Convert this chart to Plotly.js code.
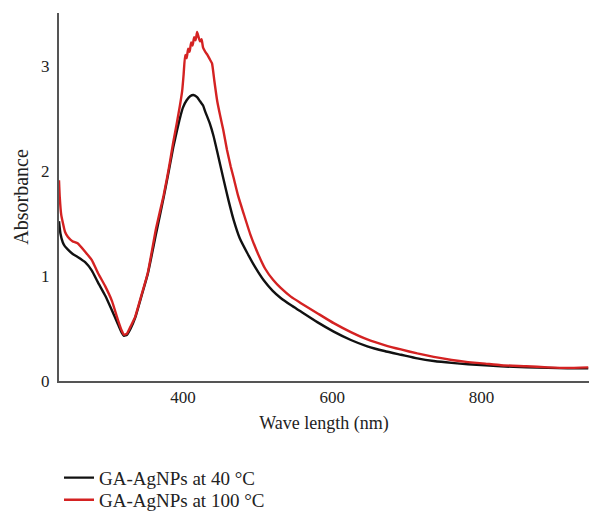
<!DOCTYPE html>
<html>
<head>
<meta charset="utf-8">
<script src="https://cdn.plot.ly/plotly-3.0.1.min.js"></script>
<style>html,body{margin:0;padding:0;background:#fff;}#chart{width:589px;height:512px;}</style>
</head>
<body>
<div id="chart"></div>
<script>
// Wavelength (nm) and absorbance
var wl40 = [234,236,239,242,246,252,259,269,278,286,296,305,313,318,321,325,330,336,345,353,364,374,379,383,387,392,396,400,405,410,414,419,423,427,430,436,441,446,454,461,468,476,486,497,508,520,531,545,557,580,602,625,647,670,692,714,736,760,782,805,826,860,889,915,943];
var abs40 = [1.52,1.40,1.32,1.28,1.25,1.21,1.18,1.13,1.05,0.94,0.81,0.67,0.54,0.46,0.43,0.44,0.50,0.60,0.82,1.02,1.40,1.74,1.92,2.07,2.22,2.38,2.50,2.60,2.67,2.71,2.72,2.70,2.66,2.62,2.56,2.45,2.33,2.18,1.93,1.72,1.53,1.36,1.22,1.08,0.96,0.86,0.79,0.72,0.665,0.56,0.47,0.39,0.33,0.285,0.25,0.215,0.19,0.172,0.16,0.15,0.14,0.13,0.125,0.12,0.12];

var wl100 = [234,235,237,242,246,252,259,269,278,286,296,305,313,318,321,325,330,336,345,353,364,374,379,383,387,392,396,399,401,403,405,407,409,411,413,415,417,419,421,423,425,427,430,433,436,439,442,446,450,454,459,464,468,474,481,490,500,510,521,531,545,557,580,602,625,647,670,692,714,736,760,782,805,826,860,889,915,943];
var abs100 = [1.91,1.75,1.58,1.42,1.37,1.33,1.31,1.23,1.15,1.03,0.90,0.76,0.58,0.48,0.44,0.45,0.52,0.61,0.83,1.03,1.45,1.76,1.94,2.10,2.27,2.46,2.62,2.76,2.92,3.10,3.07,3.16,3.13,3.22,3.19,3.27,3.24,3.32,3.27,3.23,3.25,3.17,3.13,3.10,3.06,3.02,2.86,2.66,2.52,2.39,2.20,2.04,1.93,1.76,1.60,1.40,1.22,1.07,0.96,0.885,0.80,0.745,0.645,0.55,0.465,0.395,0.342,0.30,0.262,0.23,0.20,0.18,0.165,0.15,0.14,0.13,0.125,0.13];

var seriesNames = ["GA-AgNPs at 40 °C", "GA-AgNPs at 100 °C"];
var xTicks = [400, 600, 800];
var yTicks = [0, 1, 2, 3];

var serif = "'Liberation Serif', 'Times New Roman', serif";
var txt = '#222222';

var traces = [
  {x: wl40, y: abs40, type: 'scatter', mode: 'lines', name: seriesNames[0], legend: 'legend',
   line: {color: '#111111', width: 2.4, shape: 'spline', smoothing: 0.5}},
  {x: wl100, y: abs100, type: 'scatter', mode: 'lines', name: seriesNames[1], legend: 'legend2',
   line: {color: '#d42222', width: 2.4, shape: 'spline', smoothing: 0.4}}
];

var legendBase = {x: 0, xanchor: 'left', yanchor: 'middle', orientation: 'v',
  font: {family: serif, size: 19, color: txt}, bgcolor: 'rgba(0,0,0,0)', borderwidth: 0};

var layout = {
  width: 589, height: 512,
  margin: {l: 59, r: 0, t: 13, b: 131, autoexpand: false},
  paper_bgcolor: '#ffffff', plot_bgcolor: '#ffffff',
  font: {family: serif, size: 17, color: txt},
  showlegend: true,
  legend: Object.assign({}, legendBase, {y: -0.263}),
  legend2: Object.assign({}, legendBase, {y: -0.323}),
  xaxis: {range: [234, 944], tickvals: xTicks, ticktext: xTicks.map(String),
          showgrid: false, zeroline: false, showline: true, linecolor: '#555555', linewidth: 2,
          ticks: '', ticklabelstandoff: 0,
          tickfont: {family: serif, size: 17, color: txt},
          title: {text: 'Wave length (nm)', font: {family: serif, size: 18, color: txt}, standoff: 10}},
  yaxis: {range: [0, 3.5], tickvals: yTicks, ticktext: yTicks.map(String),
          showgrid: false, zeroline: false, showline: true, linecolor: '#555555', linewidth: 2,
          ticks: '', ticklabelstandoff: 4,
          tickfont: {family: serif, size: 17, color: txt},
          title: {text: 'Absorbance', font: {family: serif, size: 20, color: txt}, standoff: 7}}
};

Plotly.newPlot('chart', traces, layout, {displayModeBar: false, staticPlot: true});
</script>
</body>
</html>
